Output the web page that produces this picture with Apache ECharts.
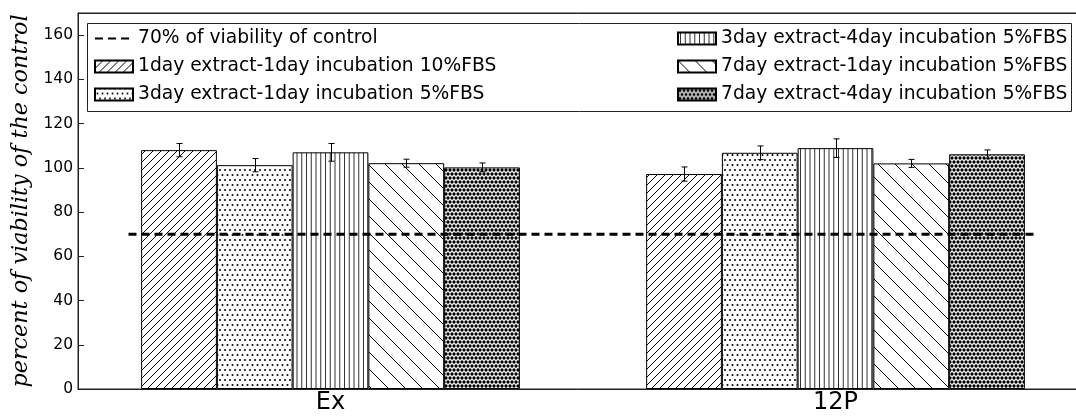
<!DOCTYPE html>
<html>
<head>
<meta charset="utf-8">
<script src="https://cdn.jsdelivr.net/npm/echarts@6/dist/echarts.min.js"></script>
<style>
html,body{margin:0;padding:0;background:#fff;overflow:hidden;}
#chart{width:1076px;height:416px;}
</style>
</head>
<body>
<div id="chart"></div>
<script>
// ---- data ----
const categories = ['Ex', '12P'];
const refName = '70% of viability of control';
const refLevel = 70;
const refSpan = [-0.4, 1.4];
const seriesNames = [
  '1day extract-1day incubation 10%FBS',
  '3day extract-1day incubation 5%FBS',
  '3day extract-4day incubation 5%FBS',
  '7day extract-1day incubation 5%FBS',
  '7day extract-4day incubation 5%FBS'
];
const vals1d1d10 = [108.0, 97.2];
const err1d1d10  = [3.0, 3.2];
const vals3d1d5  = [101.2, 106.8];
const err3d1d5   = [3.0, 3.1];
const vals3d4d5  = [107.0, 108.9];
const err3d4d5   = [4.0, 4.2];
const vals7d1d5  = [102.1, 102.0];
const err7d1d5   = [1.8, 1.8];
const vals7d4d5  = [100.2, 106.1];
const err7d4d5   = [2.0, 2.0];
const yMin = 0, yMax = 170, yStep = 20;

const allVals = [vals1d1d10, vals3d1d5, vals3d4d5, vals7d1d5, vals7d4d5];
const allErrs = [err1d1d10, err3d1d5, err3d4d5, err7d1d5, err7d4d5];

// ---- hatch patterns ----
function tile(w, h, draw) {
  const c = document.createElement('canvas');
  c.width = w; c.height = h;
  const ctx = c.getContext('2d');
  ctx.fillStyle = '#fff';
  ctx.fillRect(0, 0, w, h);
  draw(ctx, w, h);
  return c;
}
function dots(ctx, pts, r) {
  ctx.fillStyle = '#000';
  for (const [x, y] of pts) { ctx.beginPath(); ctx.arc(x, y, r, 0, Math.PI * 2); ctx.fill(); }
}
const patForward = tile(8, 8, (ctx, s) => {
  ctx.strokeStyle = '#000'; ctx.lineWidth = 1;
  for (const k of [-s, 0, s]) { ctx.beginPath(); ctx.moveTo(k, s); ctx.lineTo(k + s, 0); ctx.stroke(); }
});
const patDots = tile(10, 10, (ctx) => {
  const pts = [];
  for (const y of [0, 10]) for (const x of [0, 5, 10]) pts.push([x, y]);
  for (const x of [-2.5, 2.5, 7.5, 12.5]) pts.push([x, 5]);
  dots(ctx, pts, 1.0);
});
const patVert = tile(19, 4, (ctx) => {
  ctx.strokeStyle = '#333'; ctx.lineWidth = 1;
  for (const x of [2.5, 7.25, 12, 16.75]) { ctx.beginPath(); ctx.moveTo(x, 0); ctx.lineTo(x, 4); ctx.stroke(); }
});
const patBack = tile(17, 17, (ctx, s) => {
  ctx.strokeStyle = '#000'; ctx.lineWidth = 1;
  for (const k of [-s, 0, s]) { ctx.beginPath(); ctx.moveTo(k, 0); ctx.lineTo(k + s, s); ctx.stroke(); }
});
const patDense = tile(8, 8, (ctx) => {
  const pts = [[2,2],[6,2],[-2,2],[10,2],[0,6],[4,6],[8,6],[2,10],[6,10],[0,-2],[4,-2],[8,-2]];
  dots(ctx, pts, 1.65);
});
const patterns = [patForward, patDots, patVert, patBack, patDense];

// ---- series ----
const series = [];
seriesNames.forEach((name, j) => {
  series.push({
    name: name,
    type: 'bar',
    xAxisIndex: 0,
    yAxisIndex: 0,
    data: allVals[j],
    barGap: '0%',
    barCategoryGap: '25%',
    itemStyle: { color: { image: patterns[j], repeat: 'repeat' }, borderColor: '#000', borderWidth: 1 },
    emphasis: { disabled: true },
    z: 2
  });
});

const errData = [];
allVals.forEach((vals, j) => {
  vals.forEach((v, i) => {
    errData.push([i + (j - 2) * 0.15, v, allErrs[j][i]]);
  });
});
series.push({
  name: 'errors',
  type: 'custom',
  xAxisIndex: 1,
  yAxisIndex: 0,
  dimensions: ['x', 'y', 'e'],
  encode: { x: 0, y: 1 },
  data: errData,
  z: 4,
  renderItem: function (params, api) {
    const x = api.value(0), y = api.value(1), e = api.value(2);
    const top = api.coord([x, y + e]);
    const bot = api.coord([x, y - e]);
    const cx = Math.round(top[0]) + 0.5;
    const st = { stroke: '#000', lineWidth: 1 };
    return {
      type: 'group',
      children: [
        { type: 'line', shape: { x1: cx, y1: top[1], x2: cx, y2: bot[1] }, style: st },
        { type: 'line', shape: { x1: cx - 3, y1: top[1], x2: cx + 3, y2: top[1] }, style: st },
        { type: 'line', shape: { x1: cx - 3, y1: bot[1], x2: cx + 3, y2: bot[1] }, style: st }
      ]
    };
  }
});

series.push({
  name: refName,
  type: 'line',
  xAxisIndex: 1,
  yAxisIndex: 0,
  data: [[refSpan[0], refLevel], [refSpan[1], refLevel]],
  symbol: 'none',
  lineStyle: { color: '#000', width: 3, type: [8, 5] },
  itemStyle: { color: '#000' },
  emphasis: { disabled: true },
  z: 5
});

const legendBase = {
  orient: 'vertical',
  top: 29,
  itemWidth: 38,
  itemHeight: 12,
  itemGap: 9,
  padding: 0,
  selectedMode: false,
  z: 10,
  textStyle: { fontFamily: 'DejaVu Sans', fontSize: 18.7, lineHeight: 19, color: '#000', padding: [0, 0, 0, 0] }
};

const option = {
  animation: false,
  backgroundColor: '#fff',
  grid: { left: 78, top: 13, width: 1010, height: 376, show: true, borderColor: '#222', borderWidth: 1, backgroundColor: 'transparent', outerBoundsMode: 'none', containLabel: false },
  graphic: [{
    type: 'rect', left: 87, top: 23, z: 1,
    shape: { width: 984, height: 88 },
    style: { fill: '#fff', stroke: '#222', lineWidth: 1 }
  }],
  legend: [
    Object.assign({}, legendBase, { left: 94, data: [
      { name: refName, itemStyle: { color: 'rgba(0,0,0,0)', borderColor: 'rgba(0,0,0,0)', borderWidth: 0, opacity: 0 } },
      { name: seriesNames[0], icon: 'rect' },
      { name: seriesNames[1], icon: 'rect' } ] }),
    Object.assign({}, legendBase, { left: 677, data: [
      { name: seriesNames[2], icon: 'rect' },
      { name: seriesNames[3], icon: 'rect' },
      { name: seriesNames[4], icon: 'rect' } ] })
  ],
  xAxis: [
    {
      type: 'category', data: categories, position: 'bottom', boundaryGap: true,
      axisLine: { onZero: false, lineStyle: { color: '#222' } },
      axisTick: { inside: true, alignWithLabel: true, length: 6, lineStyle: { color: '#222' } },
      axisLabel: { fontFamily: 'DejaVu Sans', fontSize: 24, color: '#000', margin: 2 },
      splitLine: { show: false }
    },
    { type: 'value', min: -0.5, max: 1.5, show: false,
      axisLine: { show: false, onZero: false }, axisTick: { show: false }, axisLabel: { show: false }, splitLine: { show: false } },
    {
      type: 'category', data: categories, position: 'top', boundaryGap: true,
      axisLine: { onZero: false, lineStyle: { color: '#222' } },
      axisTick: { inside: true, alignWithLabel: true, length: 6, lineStyle: { color: '#222' } },
      axisLabel: { show: false },
      splitLine: { show: false }
    }
  ],
  yAxis: [{
    type: 'value', min: yMin, max: yMax, interval: yStep, position: 'left',
    name: 'percent of viability of the control',
    nameLocation: 'middle', nameGap: 46,
    nameTextStyle: { fontFamily: 'DejaVu Serif', fontStyle: 'italic', fontSize: 22.3, color: '#000' },
    axisLine: { show: true, onZero: false, lineStyle: { color: '#222' } },
    axisTick: { show: true, inside: true, length: 6, lineStyle: { color: '#222' } },
    axisLabel: { fontFamily: 'DejaVu Sans', fontSize: 15.5, color: '#000', margin: 5, showMaxLabel: false },
    splitLine: { show: false }
  }],
  series: series
};

const chart = echarts.init(document.getElementById('chart'), null, { renderer: 'canvas' });
chart.setOption(option);
</script>
</body>
</html>
